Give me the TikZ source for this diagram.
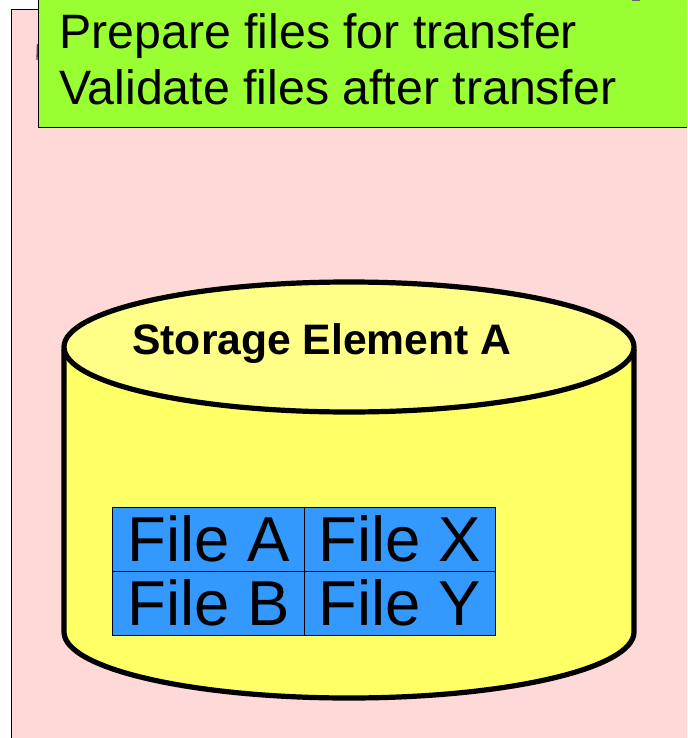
\documentclass[tikz,border=0pt]{standalone}
\usepackage{fontspec}
\setmainfont{Liberation Sans}
\usetikzlibrary{positioning}

\definecolor{panelpink}{RGB}{255,216,216}
\definecolor{taskgreen}{RGB}{153,255,51}
\definecolor{diskside}{RGB}{255,255,102}
\definecolor{disktop}{RGB}{255,255,136}
\definecolor{fileblue}{RGB}{51,153,255}

\tikzset{
	tasktext/.style={anchor=base west, inner sep=0pt, font=\fontsize{36.2}{40}\selectfont},
	filecell/.style={
		shape=rectangle,
		draw=black,
		fill=fileblue,
		line width=0.6pt,
		minimum width=143.5pt,
		minimum height=48pt,
		inner sep=0pt,
		font=\fontsize{47.6}{50}\selectfont
	},
	disk/.style={draw=black, line width=3.9pt}
}

\begin{document}
\begin{tikzpicture}[x=0.75pt,y=-0.75pt]
\useasboundingbox (0,0) rectangle (687,738);

%panel behind everything
\fill[panelpink] (11,9) rectangle (687,738);
\draw[line width=0.6pt] (687,9) -- (11,9) -- (11,738);
\draw[line width=1pt, color=black!70] (37.5,44) -- (37,60);

%task box
\fill[taskgreen] (38,0) rectangle (687,127);
\draw[line width=0.7pt] (38,0) -- (38,127) -- (687,127);
\draw[line width=0.8pt, color=black!60] (632,0.5) -- (640,0.5);
\node[tasktext](Prepare) at (59,49) {Prepare files for transfer};
\node[tasktext](Validate) at (59,105) {Validate files after transfer};

%storage element
\fill[diskside] (64,349) -- (64,632) arc[start angle=180, end angle=0, x radius=285, y radius=66] -- (634,349) -- cycle;
\draw[disk] (64,349) -- (64,632) arc[start angle=180, end angle=0, x radius=285, y radius=66] -- (634,349);
\draw[disk, fill=disktop] (349,347) ellipse[x radius=285, y radius=65];
\node[anchor=base west, inner sep=0pt, font=\bfseries\fontsize{32}{36}\selectfont](Storage) at (132,354) {Storage Element A};

%files
\node[filecell](FileA) at (208.5,539) {File A};
\node[filecell](FileX) at (400,539) {File X};
\node[filecell](FileB) at (208.5,603) {File B};
\node[filecell](FileY) at (400,603) {File Y};
\end{tikzpicture}
\end{document}
